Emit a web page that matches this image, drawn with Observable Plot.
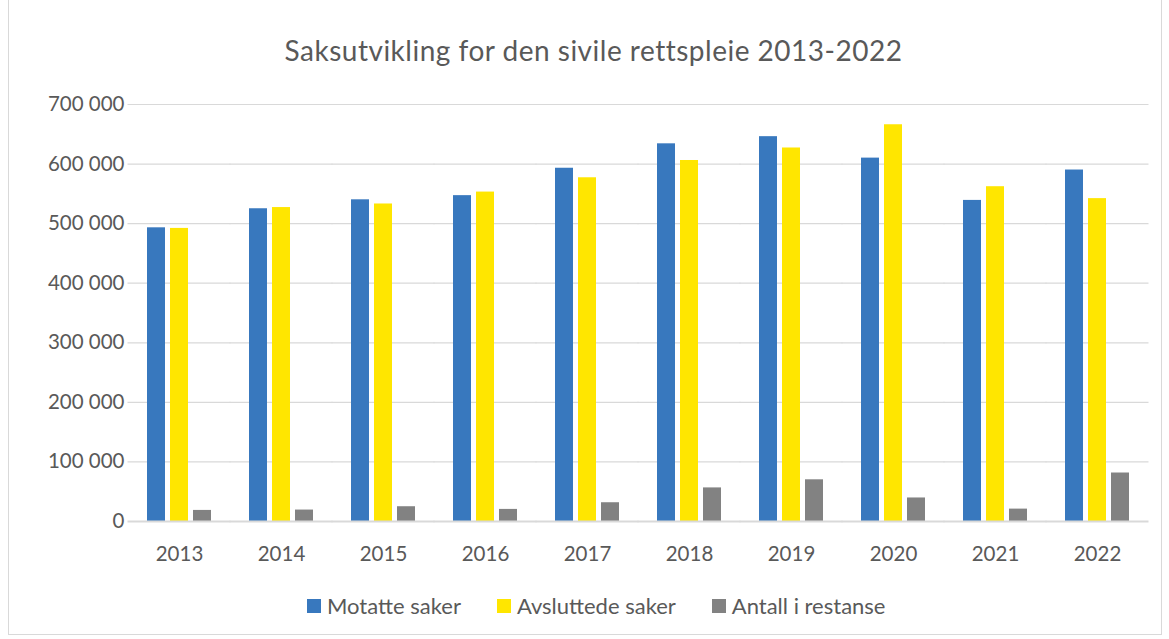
<!DOCTYPE html>
<html><head><meta charset="utf-8">
<script src="https://cdn.jsdelivr.net/npm/d3@7"></script>
<script src="https://cdn.jsdelivr.net/npm/@observablehq/plot@0.6"></script>
<style>
body{margin:0;background:#fff;font-family:Lato,"Open Sans",sans-serif;}
#wrap{position:relative;width:1169px;height:639px;overflow:hidden;background:#fff;}
#frame{position:absolute;left:8px;top:-1px;width:1154px;height:636px;border:1px solid #d9d9d9;box-sizing:border-box;}
#title{position:absolute;left:9px;width:1169px;top:33px;text-align:center;font-size:28px;letter-spacing:0.5px;color:#595959;line-height:34px;}
#chart{position:absolute;left:0;top:90px;}
#legend{position:absolute;left:307px;top:592px;display:flex;gap:36px;font-size:22px;color:#595959;line-height:28px;white-space:nowrap;}
.item{display:flex;align-items:center;gap:6px;}
.sw{width:14px;height:14px;display:inline-block;}
</style></head>
<body>
<div id="wrap">
  <div id="frame"></div>
  <div id="title">Saksutvikling for den sivile rettspleie 2013-2022</div>
  <div id="chart"></div>
  <div id="legend"></div>
</div>
<script>
const years = ["2013","2014","2015","2016","2017","2018","2019","2020","2021","2022"];
const series = ["Motatte saker","Avsluttede saker","Antall i restanse"];
const motatte = [493000,525000,540000,547000,593000,634000,646000,610000,539000,590000];
const avsluttede = [492000,527000,533000,553000,577000,606000,627000,666000,562000,542000];
const restanse = [18600,19200,24800,20300,31500,56400,70000,39500,20800,81400];
const colors = ["#3878be","#ffe600","#828282"];
const yTicks = [0,100000,200000,300000,400000,500000,600000,700000];

const seriesValues = [motatte, avsluttede, restanse];
const data = [];
years.forEach((y,i) => series.forEach((s,j) => data.push({year:y, series:s, value:seriesValues[j][i]})));

const fmt = d => d3.format(",")(d).replace(/,/g, " ");

const chart = Plot.plot({
  width: 1169,
  height: 476,
  marginLeft: 127,
  marginRight: 19,
  marginTop: 14,
  marginBottom: 45,
  style: {fontFamily: "Lato, 'Open Sans', sans-serif", fontSize: "20.5px", color: "#595959", background: "transparent", overflow: "visible"},
  fx: {domain: years, paddingInner: 0.37, paddingOuter: 0.185, label: null},
  x: {domain: series, paddingInner: 0.22, paddingOuter: 0, axis: null},
  y: {domain: [0, 700000], label: null},
  color: {domain: series, range: colors},
  marks: [
    Plot.ruleY(yTicks.filter(d => d > 0), {stroke: "#d9d9d9", strokeWidth: 1.2, insetLeft: -19.5, insetRight: -19.5}),
    Plot.barY(data, {fx: "year", x: "series", y: "value", fill: "series"}),
    Plot.ruleY([0], {stroke: "#d9d9d9", strokeWidth: 1.8, insetLeft: -19.5, insetRight: -19.5}),
    Plot.axisY(yTicks, {tickSize: 0, tickPadding: 23, tickFormat: fmt, label: null, fill: "#595959"}),
    Plot.axisFx({anchor: "bottom", tickSize: 0, tickPadding: 25, label: null, fill: "#595959"})
  ]
});
document.getElementById("chart").appendChild(chart);

const legend = document.getElementById("legend");
series.forEach((s,i) => {
  const it = document.createElement("div");
  it.className = "item";
  it.innerHTML = `<span class="sw" style="background:${colors[i]}"></span><span>${s}</span>`;
  legend.appendChild(it);
});
</script>
</body></html>
